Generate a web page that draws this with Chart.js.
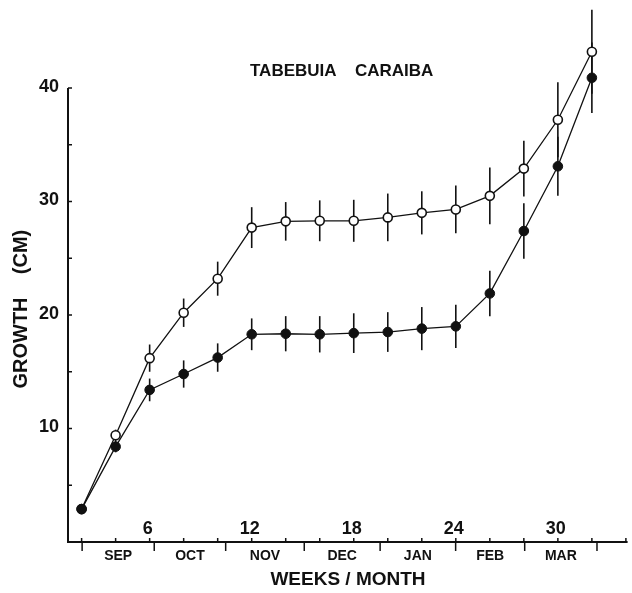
<!DOCTYPE html>
<html>
<head>
<meta charset="utf-8">
<title>Tabebuia caraiba growth</title>
<script src="https://cdn.jsdelivr.net/npm/chart.js@4.4.1/dist/chart.umd.min.js"></script>
<style>
  html, body { margin: 0; padding: 0; background: #fff; }
  canvas { display: block; }
</style>
</head>
<body>
<canvas id="growthChart" width="632" height="593"></canvas>
<script>
// Data (weeks after start, growth in cm, +/- error)
const weeks = [2, 4, 6, 8, 10, 12, 14, 16, 18, 20, 22, 24, 26, 28, 30, 32];
const openValues = [2.9, 9.4, 16.2, 20.2, 23.2, 27.7, 28.25, 28.3, 28.3, 28.6, 29.0, 29.3, 30.5, 32.9, 37.2, 43.2];
const openErrors = [0, 0.5, 1.2, 1.25, 1.5, 1.8, 1.7, 1.8, 1.85, 2.1, 1.9, 2.1, 2.5, 2.45, 3.3, 3.7];
const filledValues = [2.9, 8.4, 13.4, 14.8, 16.25, 18.3, 18.35, 18.3, 18.4, 18.5, 18.8, 19.0, 21.9, 27.4, 33.1, 40.9];
const filledErrors = [0, 0.5, 1.0, 1.2, 1.25, 1.4, 1.55, 1.6, 1.75, 1.75, 1.9, 1.9, 2.0, 2.45, 2.6, 3.1];

const yTickLabels = [10, 20, 30, 40];
const yMinorTicks = [5, 10, 15, 20, 25, 30, 35, 40];
const xTickLabels = [6, 12, 18, 24, 30];
const xMinorTicks = [2, 4, 6, 8, 10, 12, 14, 16, 18, 20, 22, 24, 26, 28, 30, 32, 34];
const monthNames = ['SEP', 'OCT', 'NOV', 'DEC', 'JAN', 'FEB', 'MAR'];
const monthEdges = [2.03, 6.27, 10.47, 15.09, 19.55, 23.99, 28.05, 32.3];

const FONT = '"Liberation Sans", Arial, sans-serif';

function points(values) {
  return weeks.map((w, i) => ({ x: w, y: values[i] }));
}

// error bars go under the markers, so open circles stay clean inside
const errorBars = {
  id: 'errorBars',
  beforeDatasetsDraw(chart) {
    const { ctx, scales: { x, y } } = chart;
    const sets = [[openValues, openErrors], [filledValues, filledErrors]];
    ctx.save();
    ctx.strokeStyle = '#111';
    ctx.lineWidth = 1.6;
    sets.forEach(([vals, errs]) => {
      vals.forEach((v, i) => {
        if (!errs[i]) return;
        const px = x.getPixelForValue(weeks[i]);
        ctx.beginPath();
        ctx.moveTo(px, y.getPixelForValue(v - errs[i]));
        ctx.lineTo(px, y.getPixelForValue(v + errs[i]));
        ctx.stroke();
      });
    });
    ctx.restore();
  }
};

// axes drawn by hand, figure style: ticks inside, month marks below
const figureAxes = {
  id: 'figureAxes',
  afterDraw(chart) {
    const { ctx, chartArea, scales: { x, y } } = chart;
    const x0 = chartArea.left;
    const y0 = chartArea.bottom;
    ctx.save();
    ctx.strokeStyle = '#111';
    ctx.fillStyle = '#111';
    ctx.lineWidth = 2;

    ctx.beginPath();
    ctx.moveTo(x0, y.getPixelForValue(40));
    ctx.lineTo(x0, y0);
    ctx.lineTo(x.getPixelForValue(34.1), y0);
    ctx.stroke();

    ctx.lineWidth = 1.5;
    yMinorTicks.forEach(v => {
      const py = y.getPixelForValue(v);
      ctx.beginPath();
      ctx.moveTo(x0, py);
      ctx.lineTo(x0 + 4, py);
      ctx.stroke();
    });
    xMinorTicks.forEach(w => {
      const px = x.getPixelForValue(w);
      ctx.beginPath();
      ctx.moveTo(px, y0);
      ctx.lineTo(px, y0 - 4);
      ctx.stroke();
    });
    monthEdges.forEach(w => {
      const px = x.getPixelForValue(w);
      ctx.beginPath();
      ctx.moveTo(px, y0);
      ctx.lineTo(px, y0 + 9);
      ctx.stroke();
    });

    ctx.font = 'bold 18px ' + FONT;
    ctx.textAlign = 'right';
    ctx.textBaseline = 'middle';
    yTickLabels.forEach(v => {
      ctx.fillText(String(v), x0 - 9, y.getPixelForValue(v) - 1);
    });

    ctx.font = 'bold 18px ' + FONT;
    ctx.textAlign = 'center';
    xTickLabels.forEach(w => {
      ctx.fillText(String(w), x.getPixelForValue(w) - 2, y0 - 13);
    });

    ctx.font = 'bold 14px ' + FONT;
    monthNames.forEach((m, i) => {
      const mid = (monthEdges[i] + monthEdges[i + 1]) / 2;
      ctx.fillText(m, x.getPixelForValue(mid), y0 + 14);
    });

    ctx.font = 'bold 19px ' + FONT;
    ctx.fillText('WEEKS / MONTH', 348, 580);

    ctx.font = 'bold 17px ' + FONT;
    ctx.textAlign = 'left';
    ctx.fillText('TABEBUIA', 250, 71);
    ctx.fillText('CARAIBA', 355, 71);

    ctx.translate(21, 310);
    ctx.rotate(-Math.PI / 2);
    ctx.font = 'bold 20px ' + FONT;
    ctx.textAlign = 'center';
    ctx.fillText('GROWTH', -33, 0);
    ctx.fillText('(CM)', 58, 0);
    ctx.restore();
  }
};

new Chart('growthChart', {
  type: 'line',
  data: {
    datasets: [
      {
        label: 'filled',
        data: points(filledValues),
        borderColor: '#111',
        borderWidth: 1.3,
        pointRadius: 4.8,
        pointBackgroundColor: '#111',
        pointBorderColor: '#111',
        pointBorderWidth: 1,
        tension: 0,
        clip: false,
      },
      {
        label: 'open',
        data: points(openValues),
        borderColor: '#111',
        borderWidth: 1.3,
        pointRadius: 4.5,
        pointBackgroundColor: '#fff',
        pointBorderColor: '#111',
        pointBorderWidth: 1.6,
        tension: 0,
        clip: false,
      },
    ],
  },
  options: {
    responsive: false,
    animation: false,
    // y runs to 47 so the last points stay inside the plot area; the axis line stops at 40
    layout: { padding: { left: 68, top: 8.55, right: 4, bottom: 51 } },
    plugins: {
      legend: { display: false },
      tooltip: { enabled: false },
    },
    scales: {
      x: { type: 'linear', min: 1.2, max: 34, display: false },
      y: { min: 0, max: 47, display: false },
    },
  },
  plugins: [errorBars, figureAxes],
});
</script>
</body>
</html>
